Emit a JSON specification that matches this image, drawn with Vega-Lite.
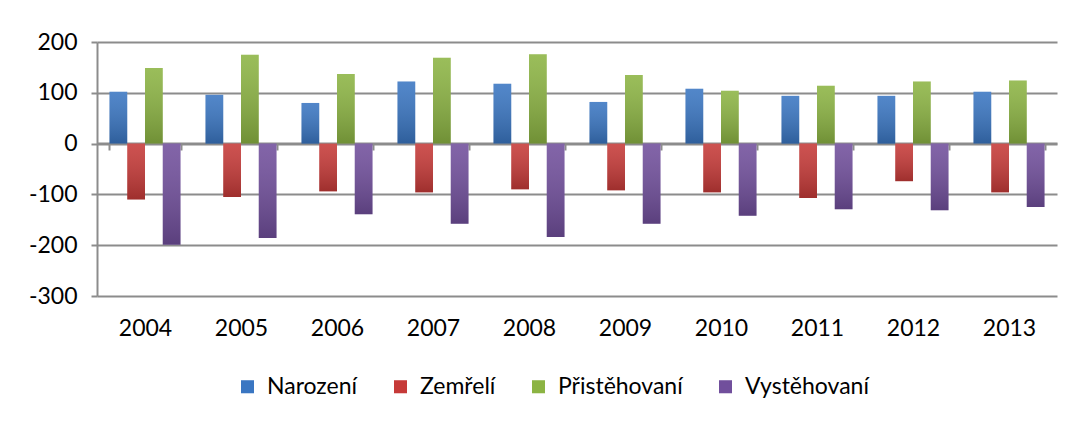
{
  "$schema": "https://vega.github.io/schema/vega-lite/v6.json",
  "width": 960,
  "height": 254,
  "autosize": "none",
  "padding": {"left": 97, "top": 42, "right": 24, "bottom": 126},
  "background": "white",
  "config": {
    "view": {"stroke": null},
    "font": "Lato",
    "axis": {"labelFont": "Lato", "labelFontSize": 23, "labelColor": "#000000", "domainColor": "#8c8c8c", "tickColor": "#8c8c8c", "gridColor": "#8c8c8c", "domainWidth": 2, "tickWidth": 2, "gridWidth": 2}
  },
  "data": {
    "values": [
      {"year": "2004", "series": "Narození", "value": 102},
      {"year": "2004", "series": "Zemřelí", "value": -110},
      {"year": "2004", "series": "Přistěhovaní", "value": 149},
      {"year": "2004", "series": "Vystěhovaní", "value": -199},
      {"year": "2005", "series": "Narození", "value": 96},
      {"year": "2005", "series": "Zemřelí", "value": -105},
      {"year": "2005", "series": "Přistěhovaní", "value": 175},
      {"year": "2005", "series": "Vystěhovaní", "value": -186},
      {"year": "2006", "series": "Narození", "value": 80},
      {"year": "2006", "series": "Zemřelí", "value": -94},
      {"year": "2006", "series": "Přistěhovaní", "value": 137},
      {"year": "2006", "series": "Vystěhovaní", "value": -139},
      {"year": "2007", "series": "Narození", "value": 122},
      {"year": "2007", "series": "Zemřelí", "value": -96},
      {"year": "2007", "series": "Přistěhovaní", "value": 169},
      {"year": "2007", "series": "Vystěhovaní", "value": -158},
      {"year": "2008", "series": "Narození", "value": 118},
      {"year": "2008", "series": "Zemřelí", "value": -90},
      {"year": "2008", "series": "Přistěhovaní", "value": 176},
      {"year": "2008", "series": "Vystěhovaní", "value": -184},
      {"year": "2009", "series": "Narození", "value": 82},
      {"year": "2009", "series": "Zemřelí", "value": -92},
      {"year": "2009", "series": "Přistěhovaní", "value": 135},
      {"year": "2009", "series": "Vystěhovaní", "value": -158},
      {"year": "2010", "series": "Narození", "value": 108},
      {"year": "2010", "series": "Zemřelí", "value": -96},
      {"year": "2010", "series": "Přistěhovaní", "value": 104},
      {"year": "2010", "series": "Vystěhovaní", "value": -142},
      {"year": "2011", "series": "Narození", "value": 94},
      {"year": "2011", "series": "Zemřelí", "value": -107},
      {"year": "2011", "series": "Přistěhovaní", "value": 114},
      {"year": "2011", "series": "Vystěhovaní", "value": -129},
      {"year": "2012", "series": "Narození", "value": 94},
      {"year": "2012", "series": "Zemřelí", "value": -74},
      {"year": "2012", "series": "Přistěhovaní", "value": 122},
      {"year": "2012", "series": "Vystěhovaní", "value": -131},
      {"year": "2013", "series": "Narození", "value": 102},
      {"year": "2013", "series": "Zemřelí", "value": -96},
      {"year": "2013", "series": "Přistěhovaní", "value": 124},
      {"year": "2013", "series": "Vystěhovaní", "value": -125}
    ]
  },
  "encoding": {
    "x": {
      "field": "year", "type": "nominal",
      "scale": {"paddingInner": 0.26, "paddingOuter": 0.13},
      "axis": {"title": null, "orient": "bottom", "offset": -153, "labelAngle": 0, "tickBand": "extent", "tickSize": 7, "labelPadding": 167, "domain": true, "grid": false}
    },
    "xOffset": {
      "field": "series", "type": "nominal",
      "sort": ["Narození", "Zemřelí", "Přistěhovaní", "Vystěhovaní"],
      "scale": {"paddingInner": 0, "paddingOuter": 0}
    },
    "y": {
      "field": "value", "type": "quantitative",
      "scale": {"domain": [-300, 200], "nice": false},
      "axis": {"title": null, "values": [-300, -200, -100, 0, 100, 200], "grid": true, "domain": true, "tickSize": 6, "labelPadding": 14, "labelExpr": "'' + datum.value"}
    }
  },
  "layer": [
    {
      "mark": {"type": "bar"},
      "encoding": {
        "color": {
          "field": "series", "type": "nominal",
          "scale": {"domain": ["Narození", "Zemřelí", "Přistěhovaní", "Vystěhovaní"], "range": ["#3a76c2", "#c63a38", "#8cb443", "#714f9c"]},
          "legend": {"title": null, "orient": "none", "legendX": 139, "legendY": 333, "direction": "horizontal", "symbolType": "square", "symbolSize": 170, "symbolStrokeWidth": 0, "labelFont": "Lato", "labelFontSize": 23, "labelColor": "#000000", "columnPadding": 31, "labelOffset": 8}
        }
      }
    },
    {
      "mark": {
        "type": "bar",
        "color": {"gradient": "linear", "x1": 0, "y1": 0, "x2": 0, "y2": 1, "stops": [{"offset": 0, "color": "rgba(255,255,255,0.12)"}, {"offset": 1, "color": "rgba(0,0,0,0.2)"}]}
      },
      "encoding": {}
    }
  ]
}
